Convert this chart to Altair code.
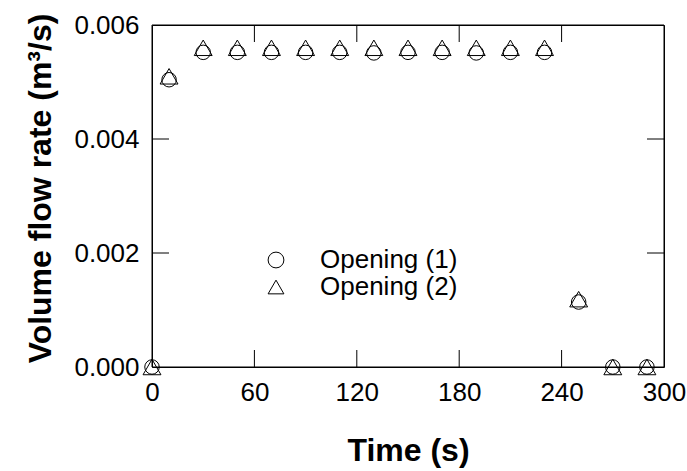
import altair as alt
import pandas as pd

# ---- data ----
time_s = [0, 10, 30, 50, 70, 90, 110, 130, 150, 170, 190, 210, 230, 250, 270, 290]
opening1 = [0.0, 0.00504, 0.00552, 0.00552, 0.00552, 0.00552, 0.00552, 0.00551,
            0.00552, 0.00552, 0.00551, 0.00552, 0.00552, 0.00114, 0.0, 0.0]
opening2 = [0.0, 0.00510, 0.00560, 0.00560, 0.00560, 0.00560, 0.00560, 0.00560,
            0.00560, 0.00560, 0.00560, 0.00560, 0.00560, 0.00119, 0.0, 0.0]
series_names = ["Opening (1)", "Opening (2)"]
x_tick_values = [0, 60, 120, 180, 240, 300]
y_tick_values = [0.000, 0.002, 0.004, 0.006]
inner_x_ticks = [60, 120, 180, 240]
inner_y_ticks = [0.002, 0.004]

W, H = 512, 342
TICK = 17
FONT = "Liberation Sans"

df1 = pd.DataFrame({"time": time_s, "flow": opening1, "series": series_names[0]})
df2 = pd.DataFrame({"time": time_s, "flow": opening2, "series": series_names[1]})

xscale = alt.Scale(domain=[0, 300], nice=False, zero=False)
yscale = alt.Scale(domain=[0, 0.006], nice=False)
shape_scale = alt.Scale(domain=series_names, range=["circle", "triangle-up"])

x_enc = alt.X("time:Q", scale=xscale,
              axis=alt.Axis(values=x_tick_values, title="Time (s)", domain=False, ticks=False, grid=False,
                            labelFlush=False, labelFontSize=26, labelPadding=12, labelColor="black",
                            labelFont=FONT, titleFontSize=32, titleFontWeight="bold", titleFont=FONT,
                            titleColor="black", titleX=W / 2, titleY=93, titleBaseline="alphabetic",
                            titleAlign="center"))
y_enc = alt.Y("flow:Q", scale=yscale,
              axis=alt.Axis(values=y_tick_values, format=".3f", title="Volume flow rate (m³/s)",
                            domain=False, ticks=False, grid=False, labelFlush=False,
                            labelFontSize=26, labelPadding=13, labelColor="black", labelFont=FONT,
                            titleFontSize=32, titleFontWeight="bold", titleFont=FONT, titleColor="black",
                            titleX=-102, titleY=163, titleAngle=270, titleBaseline="alphabetic",
                            titleAlign="center"))
legend = alt.Legend(title=None, orient="none", legendX=111, legendY=222, padding=0,
                    symbolSize=250, symbolStrokeWidth=1, symbolStrokeColor="black",
                    symbolFillColor="transparent", labelFontSize=26, labelFont=FONT,
                    labelColor="black", labelOffset=31, rowPadding=1)

frame = alt.Chart(pd.DataFrame({"k": [0]})).mark_rect(
    fill=None, fillOpacity=0, stroke="black", strokeWidth=1
).encode(x=alt.value(0), x2=alt.value(W), y=alt.value(0), y2=alt.value(H))

circles = alt.Chart(df1).mark_point(filled=False, color="black", strokeWidth=1, opacity=1,
                                    size=210, clip=False).encode(
    x=x_enc, y=y_enc,
    shape=alt.Shape("series:N", scale=shape_scale, legend=legend),
)
triangles = alt.Chart(df2).mark_point(filled=False, color="black", strokeWidth=1, opacity=1,
                                      size=320, clip=False).encode(
    x=alt.X("time:Q"), y=alt.Y("flow:Q"),
    shape=alt.Shape("series:N"),
)

xt = pd.DataFrame({"time": inner_x_ticks})
yt = pd.DataFrame({"flow": inner_y_ticks})

bottom_ticks = alt.Chart(xt).mark_rule(color="black", strokeWidth=1).encode(
    x="time:Q", y=alt.value(H - TICK), y2=alt.value(H))
top_ticks = alt.Chart(xt).mark_rule(color="black", strokeWidth=1).encode(
    x="time:Q", y=alt.value(0), y2=alt.value(TICK))
left_ticks = alt.Chart(yt).mark_rule(color="black", strokeWidth=1).encode(
    y="flow:Q", x=alt.value(0), x2=alt.value(TICK))
right_ticks = alt.Chart(yt).mark_rule(color="black", strokeWidth=1).encode(
    y="flow:Q", x=alt.value(W - TICK), x2=alt.value(W))

chart = alt.layer(circles, triangles, frame, bottom_ticks, top_ticks, left_ticks, right_ticks).properties(
    width=W, height=H,
    autosize=alt.AutoSizeParams(type="none"),
    padding={"left": 152, "top": 25, "right": 23, "bottom": 104},
    background="white",
).configure(font=FONT).configure_view(stroke="black", strokeWidth=1)

chart.save("out.html", embed_options={"renderer": "svg", "actions": False})
